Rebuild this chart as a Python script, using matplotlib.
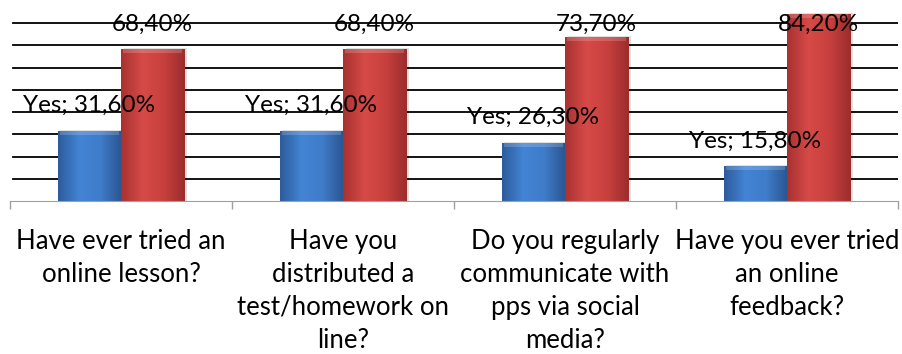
import numpy as np
import matplotlib.pyplot as plt
from matplotlib.colors import LinearSegmentedColormap

categories = [
    "Have ever tried an\nonline lesson?",
    "Have you\ndistributed a\ntest/homework on\nline?",
    "Do you regularly\ncommunicate with\npps via social\nmedia?",
    "Have you ever tried\nan online\nfeedback?",
]
yes_values = [31.6, 31.6, 26.3, 15.8]
no_values = [68.4, 68.4, 73.7, 84.2]

plt.rcParams['font.family'] = ['Lato', 'DejaVu Sans']

fig = plt.figure(figsize=(9.02, 3.54), dpi=100)
ax = fig.add_axes([10 / 902, 1 - 201 / 354, 888 / 902, 200 / 354])

x = np.arange(len(categories))
width = 0.285

blue_cmap = LinearSegmentedColormap.from_list('blue', ['#2d5c9c', '#4384d4', '#3f7cc9', '#2b5590'])
red_cmap = LinearSegmentedColormap.from_list('red', ['#a83232', '#d64a47', '#c8403e', '#9c2d2d'])
grad = np.linspace(0, 1, 64).reshape(1, -1)


def shaded_bars(xs, values, cmap, face):
    bars = ax.bar(xs, values, width, color=face, edgecolor='none', zorder=3)
    for b in bars:
        # soft drop shadow
        ax.bar(b.get_x() + b.get_width() / 2 + 0.012, b.get_height() + 0.4, width,
               color='#000000', alpha=0.12, edgecolor='none', zorder=2)
        img = ax.imshow(grad, cmap=cmap, aspect='auto', zorder=4,
                        extent=[b.get_x(), b.get_x() + b.get_width(), 0, b.get_height()])
        img.set_clip_path(b)
        # lighter bevel at the top
        ax.bar(b.get_x() + b.get_width() / 2, 1.8, b.get_width() * 0.94,
               bottom=b.get_height() - 1.9, color='white', alpha=0.18,
               edgecolor='none', zorder=5)
    return bars


yes_bars = shaded_bars(x - width / 2, yes_values, blue_cmap, '#3f7cc9')
no_bars = shaded_bars(x + width / 2, no_values, red_cmap, '#c8403e')

for b, v in zip(yes_bars, yes_values):
    ax.annotate(f"Yes; {v:.2f}%".replace('.', ','),
                (b.get_x() + b.get_width() / 2, v), xytext=(0, 18),
                textcoords='offset points', ha='center', va='center',
                fontsize=17.5, color='black', zorder=6)
for b, v in zip(no_bars, no_values):
    ax.text(b.get_x() + b.get_width() / 2, 79.3, f"{v:.2f}%".replace('.', ','),
            ha='center', va='center', fontsize=17.5, color='black', zorder=6)

ax.set_xlim(-0.5, len(categories) - 0.5)
ax.set_ylim(0, 90)
for yv in range(10, 90, 10):
    ax.axhline(yv, xmin=3 / 888, xmax=1, color='black', lw=1.3, zorder=1)

ax.set_yticks([])
ax.set_xticks(x)
ax.set_xticklabels(categories, fontsize=18.5, linespacing=1.4, va='top')
ax.tick_params(axis='x', which='major', length=0, pad=20)
ax.set_xticks(np.arange(len(categories) + 1) - 0.5, minor=True)
ax.tick_params(axis='x', which='minor', length=6, width=1, color='#a0a0a0')

for side in ['left', 'right', 'top']:
    ax.spines[side].set_visible(False)
ax.spines['bottom'].set_color('#a0a0a0')
ax.spines['bottom'].set_zorder(7)

fig.savefig('out.png', dpi=100)
